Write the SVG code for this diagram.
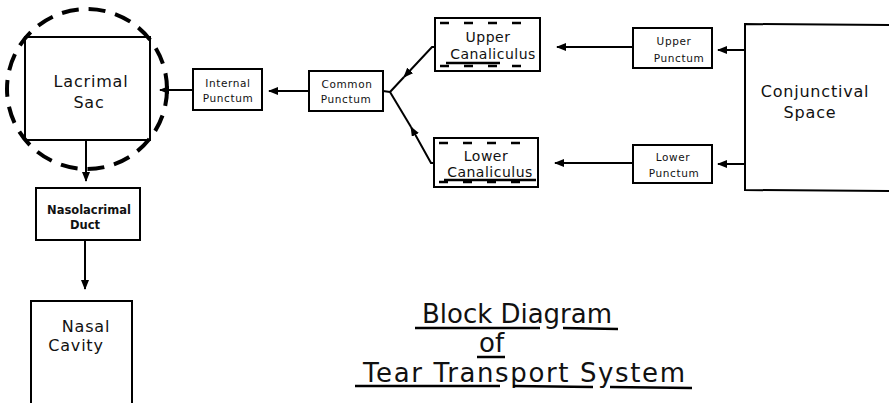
<svg xmlns="http://www.w3.org/2000/svg" width="889" height="403" viewBox="0 0 889 403">
<style>
.box{fill:#fff;stroke:#000;stroke-width:2}
.ln{fill:none;stroke:#000;stroke-width:2}
.t{font-family:"DejaVu Sans",sans-serif;fill:#111;text-anchor:middle}
.s{font-size:10.5px;letter-spacing:0.6px}
.m{font-size:16px;letter-spacing:0.8px}
.c{font-size:14px;letter-spacing:0.5px}
.ti{font-size:26px;text-anchor:start}
.ul{stroke:#000;stroke-width:2.5}
.dash{fill:none;stroke:#000;stroke-width:2.5;stroke-dasharray:9,15}
</style>
<defs>
<marker id="ah" markerUnits="userSpaceOnUse" markerWidth="10" markerHeight="8" refX="9" refY="4" orient="auto">
<path d="M0,0 L10,4 L0,8 z" fill="#000"/>
</marker>
</defs>
<rect width="889" height="403" fill="#fff"/>

<g id="lacrimal-sac">
<rect class="box" x="25" y="37" width="125" height="103"/>
<circle cx="87" cy="89" r="80" fill="none" stroke="#000" stroke-width="4" stroke-dasharray="17,10"/>
<text class="t m" x="91" y="87">Lacrimal</text>
<text class="t m" x="89" y="108">Sac</text>
</g>

<g id="nasolacrimal-duct">
<rect class="box" x="36" y="188" width="104" height="52"/>
<text class="t" x="89" y="214" style="font-size:11.5px;font-weight:bold">Nasolacrimal</text>
<text class="t" x="85" y="229" style="font-size:11.5px;font-weight:bold">Duct</text>
</g>

<g id="nasal-cavity">
<path class="ln" d="M31,403 V301 H132 V403" stroke-width="2.5"/>
<text class="t m" x="86" y="332">Nasal</text>
<text class="t m" x="76" y="351">Cavity</text>
</g>

<g id="internal-punctum">
<rect class="box" x="193" y="69" width="69" height="41"/>
<text class="t s" x="228" y="87">Internal</text>
<text class="t s" x="228" y="102">Punctum</text>
</g>

<g id="common-punctum">
<rect class="box" x="309" y="71" width="74" height="40"/>
<text class="t s" x="347" y="88">Common</text>
<text class="t s" x="346" y="103">Punctum</text>
</g>

<g id="upper-canaliculus">
<rect class="box" x="435" y="18" width="105" height="53" stroke-width="2.5"/>
<path class="dash" d="M440,23 H536 M440,66 H536"/>
<text class="t c" x="488" y="42">Upper</text>
<text class="t c" x="493" y="59">Canaliculus</text>
<line class="ul" x1="446" y1="63" x2="500" y2="63" stroke-width="1.5"/>
</g>

<g id="lower-canaliculus">
<rect class="box" x="434" y="138" width="104" height="49" stroke-width="2.5"/>
<path class="dash" d="M439,143 H534 M439,182 H534"/>
<text class="t c" x="486" y="161">Lower</text>
<text class="t c" x="490" y="177">Canaliculus</text>
<line class="ul" x1="444" y1="180" x2="536" y2="180" stroke-width="1.5"/>
</g>

<g id="upper-punctum">
<rect class="box" x="633" y="28" width="79" height="40"/>
<text class="t s" x="674" y="45">Upper</text>
<text class="t s" x="679" y="62">Punctum</text>
</g>

<g id="lower-punctum">
<rect class="box" x="633" y="145" width="79" height="38"/>
<text class="t s" x="673" y="161">Lower</text>
<text class="t s" x="674" y="177">Punctum</text>
</g>

<g id="conjunctival-space">
<path class="ln" d="M889,25 L745,24 V190 L889,191" stroke-width="2.5"/>
<text class="t m" x="815" y="97">Conjunctival</text>
<text class="t m" x="810" y="118">Space</text>
</g>

<g id="connectors">
<line class="ln" x1="745" y1="50" x2="718" y2="50" marker-end="url(#ah)"/>
<line class="ln" x1="745" y1="164" x2="718" y2="164" marker-end="url(#ah)"/>
<line class="ln" x1="633" y1="47" x2="557" y2="47" marker-end="url(#ah)"/>
<line class="ln" x1="633" y1="163" x2="555" y2="163" marker-end="url(#ah)"/>
<path class="ln" d="M435,47 H432 L404,77" marker-end="url(#ah)"/>
<path class="ln" d="M404,77 L390,92"/>
<path class="ln" d="M434,163 H431 L411,127" marker-end="url(#ah)"/>
<path class="ln" d="M411,127 L390,92"/>
<line class="ln" x1="383" y1="91" x2="390" y2="92"/>
<line class="ln" x1="309" y1="91" x2="269" y2="91" marker-end="url(#ah)"/>
<line class="ln" x1="193" y1="90" x2="160" y2="90" marker-end="url(#ah)"/>
<line class="ln" x1="86" y1="140" x2="86" y2="181" marker-end="url(#ah)"/>
<line class="ln" x1="85" y1="240" x2="85" y2="289" marker-end="url(#ah)"/>
</g>

<g id="title">
<text class="t ti" x="422" y="323" textLength="190" lengthAdjust="spacing">Block Diagram</text>
<line class="ul" x1="415" y1="328" x2="540" y2="328"/>
<line class="ul" x1="563" y1="328" x2="618" y2="329"/>
<text class="t ti" x="479" y="352">of</text>
<line class="ul" x1="477" y1="357" x2="505" y2="357"/>
<text class="t ti" x="363" y="382" textLength="322" lengthAdjust="spacing">Tear Transport System</text>
<line class="ul" x1="355" y1="386" x2="500" y2="386"/>
<line class="ul" x1="513" y1="386" x2="593" y2="387"/>
<line class="ul" x1="610" y1="387" x2="692" y2="388"/>
</g>
</svg>
